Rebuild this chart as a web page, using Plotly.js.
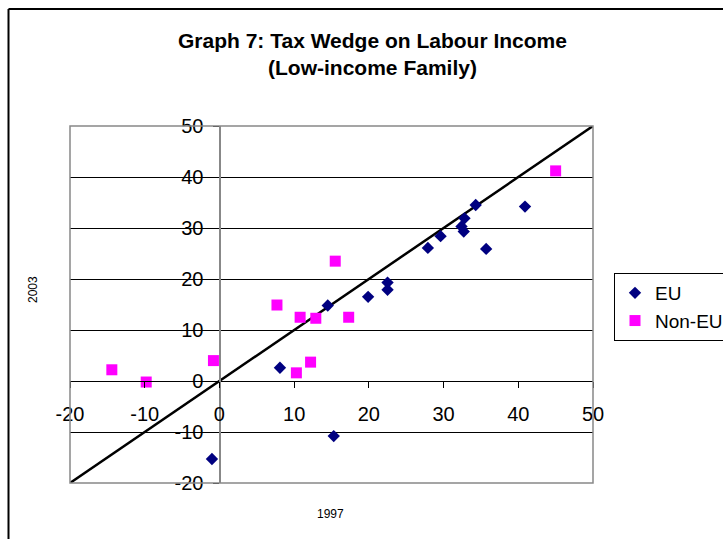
<!DOCTYPE html>
<html>
<head>
<meta charset="utf-8">
<script src="https://cdn.plot.ly/plotly-3.0.1.min.js"></script>
<style>html,body{margin:0;padding:0;background:#fff;}#chart{width:723px;height:539px;}</style>
</head>
<body>
<div id="chart"></div>
<script>
// EU countries: tax wedge 1997 (x) vs 2003 (y)
const euX = [-1.0, 8.1, 14.5, 15.3, 19.9, 22.5, 22.5, 27.9, 29.6, 32.4, 32.7, 32.8, 34.3, 35.7, 40.9];
const euY = [-15.3, 2.6, 14.8, -10.8, 16.5, 19.3, 17.9, 26.1, 28.4, 30.3, 29.3, 31.9, 34.5, 25.9, 34.2];
// Non-EU countries
const nonEuX = [-14.4, -9.8, -0.8, 7.7, 10.8, 12.9, 10.3, 12.2, 15.5, 17.3, 45.0];
const nonEuY = [2.2, -0.2, 4.0, 14.9, 12.5, 12.3, 1.6, 3.7, 23.5, 12.5, 41.2];
// 45-degree reference line endpoints
const refX = [-20, 50];
const refY = [-20, 50];
const tickVals = [-20, -10, 0, 10, 20, 30, 40, 50];
const tickText = ['-20', '-10', '0', '10', '20', '30', '40', '50'];

const font = 'Liberation Sans, Arial, sans-serif';

const traces = [
  {x: refX, y: refY, mode: 'lines', line: {color: '#000', width: 2.5}, showlegend: false, hoverinfo: 'skip'},
  {x: euX, y: euY, mode: 'markers', name: 'EU', marker: {symbol: 'diamond', size: 9.5, color: '#000080'}},
  {x: nonEuX, y: nonEuY, mode: 'markers', name: 'Non-EU', marker: {symbol: 'square', size: 11, color: '#FF00FF'}}
];

const pos = 20 / 70;
const leftPx = (8.5 - 70) / 523;
const topPx = (483 - 9) / 357;

const layout = {
  width: 723, height: 539,
  margin: {l: 70, r: 130, t: 126, b: 56, autoexpand: false},
  paper_bgcolor: '#fff', plot_bgcolor: '#fff',
  font: {family: font, size: 20, color: '#000'},
  xaxis: {
    range: [-20, 50], domain: [0, 1], anchor: 'free', position: pos, side: 'bottom',
    tickvals: tickVals, ticktext: tickText, ticks: 'outside', ticklen: 6, tickcolor: '#000', tickwidth: 1,
    showgrid: false, zeroline: false, showline: true, linecolor: '#000', linewidth: 1,
    tickfont: {family: font, size: 20, color: '#000'}, ticklabelstandoff: 9
  },
  yaxis: {
    range: [-20, 50], domain: [0, 1], anchor: 'free', position: pos, side: 'left',
    tickvals: tickVals, ticktext: tickText, ticks: 'outside', ticklen: 6, tickcolor: '#000', tickwidth: 1,
    showgrid: true, gridcolor: '#000', gridwidth: 1, zeroline: false, showline: true, linecolor: '#888', linewidth: 1.5,
    tickfont: {family: font, size: 20, color: '#000'}, ticklabelstandoff: 6
  },
  legend: {
    x: (614 - 70) / 523, xanchor: 'left', y: (483 - 273) / 357, yanchor: 'top',
    bordercolor: '#000', borderwidth: 1, bgcolor: '#fff',
    font: {family: font, size: 19, color: '#000'}, itemwidth: 30, tracegroupgap: 0
  },
  shapes: [
    {type: 'rect', xref: 'paper', yref: 'paper', x0: 0, x1: 1, y0: 0, y1: 1, line: {color: '#888', width: 1.5}, layer: 'above'},
    {type: 'line', xref: 'paper', yref: 'paper', x0: leftPx, x1: leftPx, y0: -0.2, y1: topPx, line: {color: '#000', width: 2}, layer: 'above'},
    {type: 'line', xref: 'paper', yref: 'paper', x0: leftPx, x1: 1.3, y0: topPx, y1: topPx, line: {color: '#000', width: 2}, layer: 'above'}
  ],
  annotations: [
    {text: '<b>Graph 7: Tax Wedge on Labour Income<br>(Low-income Family)</b>', xref: 'paper', yref: 'paper',
      x: (372 - 70) / 523, y: (483 - 54) / 357, showarrow: false, xanchor: 'center', yanchor: 'middle',
      font: {family: font, size: 21, color: '#000'}},
    {text: '2003', xref: 'paper', yref: 'paper', x: (33 - 70) / 523, y: (483 - 290) / 357, showarrow: false, textangle: -90, font: {family: font, size: 12, color: '#000'}, xanchor: 'center', yanchor: 'middle'},
    {text: '1997', xref: 'paper', yref: 'paper', x: (330 - 70) / 523, y: (483 - 514) / 357, showarrow: false, font: {family: font, size: 12, color: '#000'}, xanchor: 'center', yanchor: 'middle'}
  ]
};

Plotly.newPlot('chart', traces, layout, {displayModeBar: false, staticPlot: true});
</script>
</body>
</html>
